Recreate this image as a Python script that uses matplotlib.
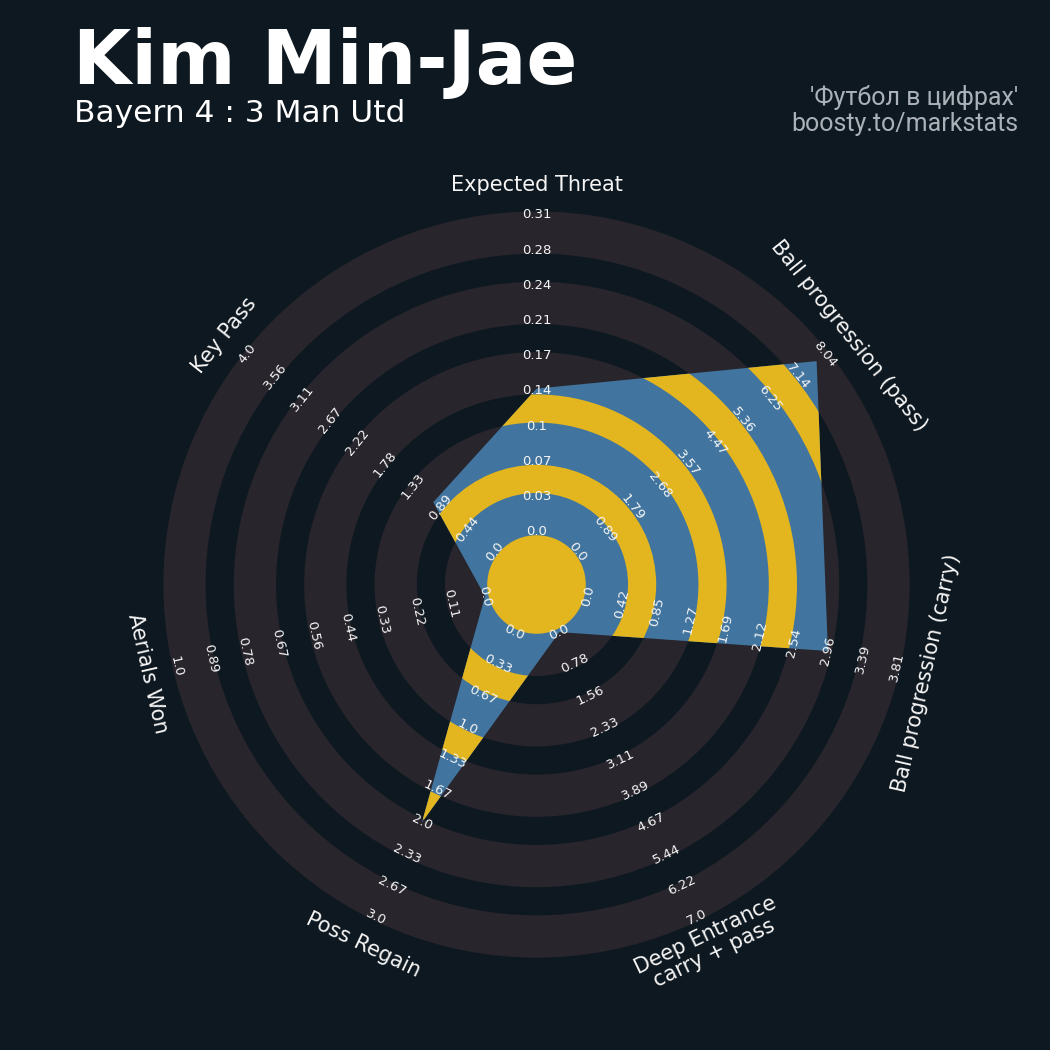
import numpy as np
import matplotlib
matplotlib.use("Agg")
import matplotlib.pyplot as plt
from matplotlib.patches import Circle, Wedge, Polygon

# data
params = ["Expected Threat", "Ball progression (pass)", "Ball progression (carry)",
          "Deep Entrance\ncarry + pass", "Poss Regain", "Aerials Won", "Key Pass"]
range_min = [0.0, 0.0, 0.0, 0.0, 0.0, 0.0, 0.0]
range_max = [0.31, 8.0375, 3.81, 7.0, 3.0, 1.0, 4.0]
values = [0.14, 7.75, 2.96, 0.0, 2.0, 0.0, 1.0]

title = "Kim Min-Jae"
subtitle = "Bayern 4 : 3 Man Utd"
credit_1 = "'Футбол в цифрах'"
credit_2 = "boosty.to/markstats"

# style
BG = "#0e1820"
RING = "#28252c"
BLUE = "#41759f"
YELLOW = "#e3b51e"
TXT = "#f5f5f5"
CREDIT = "#aab1b8"

n = len(params)
num_labels = 10
r_first, r_last = 1.5, 10.5          # radius of first / last range label
ring_edges = [1.4, 2.6, 3.4, 4.6, 5.4, 6.6, 7.4, 8.6, 9.4, 10.6]
PX = 35.2                             # pixels per radar unit
cx, cy = 536.5, 584.5                 # centre in pixels
L = 12.6

fig = plt.figure(figsize=(10.5, 10.5), dpi=100, facecolor=BG)
w = 2 * L * PX / 1050
ax = fig.add_axes([(cx - L * PX) / 1050, (1050 - cy - L * PX) / 1050, w, w])
ax.set_xlim(-L, L)
ax.set_ylim(-L, L)
ax.set_facecolor(BG)
ax.axis("off")

# background rings
for i in range(0, len(ring_edges), 2):
    ax.add_patch(Wedge((0, 0), ring_edges[i + 1], 0, 360,
                       width=ring_edges[i + 1] - ring_edges[i], facecolor=RING, edgecolor="none", zorder=1))

angles = np.deg2rad(90 - np.arange(n) * 360 / n)

def to_radius(v, lo, hi):
    return r_first + (r_last - r_first) * (v - lo) / (hi - lo)

radii = np.array([to_radius(v, lo, hi) for v, lo, hi in zip(values, range_min, range_max)])
verts = np.column_stack([radii * np.cos(angles), radii * np.sin(angles)])
poly = Polygon(verts, closed=True, facecolor=BLUE, edgecolor="none", zorder=2)
ax.add_patch(poly)

# inner rings clipped to radar
inner = [Circle((0, 0), ring_edges[0], facecolor=YELLOW, edgecolor="none", zorder=3)]
for i in range(1, len(ring_edges) - 1, 2):
    inner.append(Wedge((0, 0), ring_edges[i + 1], 0, 360,
                       width=ring_edges[i + 1] - ring_edges[i], facecolor=YELLOW, edgecolor="none", zorder=3))
for p in inner:
    ax.add_patch(p)
    p.set_clip_path(poly)

# labels
label_r = np.linspace(r_first, r_last, num_labels)
for i in range(n):
    deg = i * 360 / n
    rot = -deg
    if 90 < deg < 270:
        rot += 180
    a = angles[i]
    ax.text(11.35 * np.cos(a), 11.35 * np.sin(a), params[i], rotation=rot, rotation_mode="anchor",
            ha="center", va="center", color=TXT, fontsize=15, zorder=5, linespacing=1.0)
    ticks = np.round(np.linspace(range_min[i], range_max[i], num_labels), 2)
    for r, t in zip(label_r, ticks):
        ax.text(r * np.cos(a), r * np.sin(a), str(float(t)), rotation=rot, rotation_mode="anchor",
                ha="center", va="center", color=TXT, fontsize=9.5, zorder=5)

fig.text(73 / 1050, 1 - 84 / 1050, title, fontsize=54.2, fontweight="bold", color="white", va="baseline")
fig.text(74 / 1050, 1 - 122 / 1050, subtitle, fontsize=22.5, color="white", va="baseline")
fig.text(1018 / 1050, 1 - 105 / 1050, credit_1, fontsize=18, color=CREDIT, family="Roboto",
         ha="right", va="baseline")
fig.text(1018 / 1050, 1 - 131 / 1050, credit_2, fontsize=18, color=CREDIT, family="Roboto",
         ha="right", va="baseline")

fig.savefig("out.png", dpi=100, facecolor=BG)
